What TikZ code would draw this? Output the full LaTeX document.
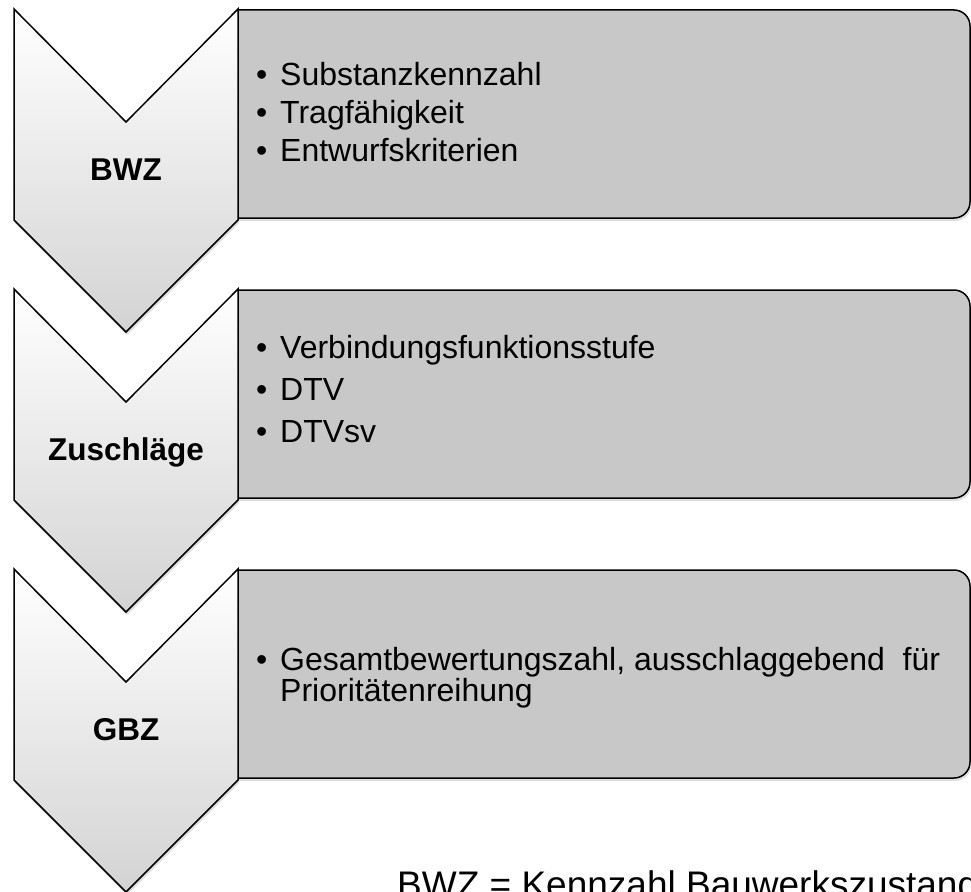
\documentclass[tikz,border=0pt]{standalone}
\usepackage{fontspec}
\setmainfont{Liberation Sans}
\definecolor{gbBox}{HTML}{C8C8C8}
\definecolor{gbShade}{HTML}{D3D3D3}
\definecolor{gbLine}{HTML}{000000}
\usetikzlibrary{shadows}

\begin{document}
\begin{tikzpicture}[x=1pt, y=-1pt,
  chevron/.style={draw=gbLine, line width=1.5pt, top color=white, bottom color=gbShade,
    drop shadow={shadow xshift=1pt, shadow yshift=-3pt, opacity=0.25}},
  listbox/.style={draw=gbLine, line width=1.5pt, fill=gbBox,
    drop shadow={shadow xshift=1pt, shadow yshift=-3pt, opacity=0.25}},
  steplabel/.style={font=\fontsize{31.5}{38}\selectfont\bfseries, anchor=base, inner sep=0pt},
  listitem/.style={font=\fontsize{32}{38}\selectfont, anchor=base west, inner sep=0pt}]
  \fill[white] (0,0) rectangle (971,891);
  \clip (0,0) rectangle (971,891);

  % BWZ
  \draw[listbox] (238,10) [rounded corners=16pt] -- (970,10) -- (970,218) [sharp corners] -- (238,218) -- cycle;
  \draw[chevron] (14,9) -- (126,122) -- (238,9) -- (238,220) -- (126,332) -- (14,220) -- cycle;
  \node[steplabel] (bwz) at (126,180) {BWZ};
  \node[listitem] (bwzA) at (256,85) {\makebox[24pt][l]{\textbullet}Substanzkennzahl};
  \node[listitem] (bwzB) at (256,123) {\makebox[24pt][l]{\textbullet}Tragfähigkeit};
  \node[listitem] (bwzC) at (256,161) {\makebox[24pt][l]{\textbullet}Entwurfskriterien};

  % Zuschlaege
  \draw[listbox] (238,290) [rounded corners=16pt] -- (970,290) -- (970,498) [sharp corners] -- (238,498) -- cycle;
  \draw[chevron] (14,289) -- (126,402) -- (238,289) -- (238,500) -- (126,612) -- (14,500) -- cycle;
  \node[steplabel] (zus) at (126,460) {Zuschläge};
  \node[listitem] (zusA) at (256,358) {\makebox[24pt][l]{\textbullet}Verbindungsfunktionsstufe};
  \node[listitem] (zusB) at (256,400) {\makebox[24pt][l]{\textbullet}DTV};
  \node[listitem] (zusC) at (256,442) {\makebox[24pt][l]{\textbullet}DTVsv};

  % GBZ
  \draw[listbox] (238,570) [rounded corners=16pt] -- (970,570) -- (970,778) [sharp corners] -- (238,778) -- cycle;
  \draw[chevron] (14,569) -- (126,682) -- (238,569) -- (238,780) -- (126,892) -- (14,780) -- cycle;
  \node[steplabel] (gbz) at (126,740) {GBZ};
  \node[listitem] (gbzA) at (256,670) {\makebox[24pt][l]{\textbullet}Gesamtbewertungszahl, ausschlaggebend\ \ für};
  \node[listitem] (gbzB) at (256,701) {\makebox[24pt][l]{}Prioritätenreihung};

  % Legende
  \node[font=\fontsize{37}{44}\selectfont, anchor=base west, inner sep=0pt] (legend) at (397,897) {BWZ = Kennzahl Bauwerkszustand};
\end{tikzpicture}
\end{document}
